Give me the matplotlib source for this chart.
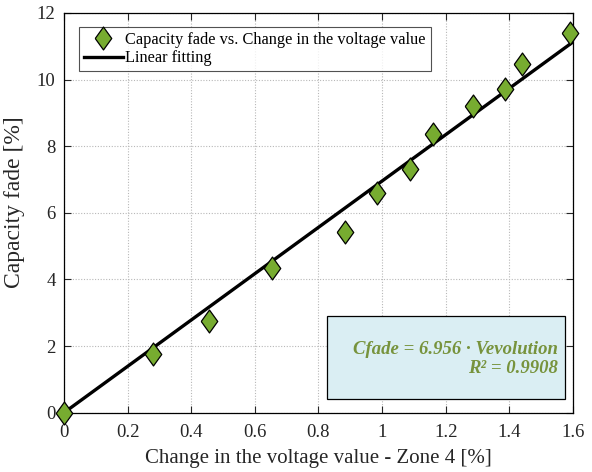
import numpy as np
import matplotlib
matplotlib.use("Agg")
import matplotlib.pyplot as plt
from matplotlib.patches import Rectangle

# =============================================================================
# DATA
# =============================================================================

voltage_change = [0.0, 0.280, 0.456, 0.655, 0.884, 0.985, 1.086, 1.159,
                  1.285, 1.385, 1.439, 1.590]
capacity_fade = [0.0, 1.75, 2.75, 4.33, 5.41, 6.60, 7.31, 8.36,
                 9.21, 9.73, 10.47, 11.41]

fit_slope = 6.956
fit_r2 = 0.9908
fit_x = [0.0, 1.6]

x_ticks = [0, 0.2, 0.4, 0.6, 0.8, 1, 1.2, 1.4, 1.6]
x_tick_labels = ["0", "0.2", "0.4", "0.6", "0.8", "1", "1.2", "1.4", "1.6"]
y_ticks = [0, 2, 4, 6, 8, 10, 12]

# =============================================================================
# PLOT
# =============================================================================

plt.rcParams["font.family"] = ["Liberation Serif", "DejaVu Serif"]

fig = plt.figure(figsize=(5.92, 4.72), dpi=100)
ax = fig.add_axes([0.108, 0.1256, 0.860, 0.847])

# wider diamond than matplotlib's "d"
diamond = [(-0.72, 0), (0, 1), (0.72, 0), (0, -1), (-0.72, 0)]

ax.plot(
    voltage_change,
    capacity_fade,
    linestyle="none",
    marker=diamond,
    markersize=16.5,
    markerfacecolor="#77ac30",
    markeredgecolor="black",
    markeredgewidth=0.9,
    label="Capacity fade vs. Change in the voltage value",
    zorder=4,
    clip_on=False
)

fit_y = [fit_slope * v for v in fit_x]

ax.plot(
    fit_x,
    fit_y,
    color="black",
    linewidth=2.4,
    label="Linear fitting",
    zorder=3
)

ax.set_xlim(0, 1.6)
ax.set_ylim(0, 12)
ax.set_xticks(x_ticks)
ax.set_xticklabels(x_tick_labels)
ax.set_yticks(y_ticks)

ax.tick_params(direction="in", top=True, right=True, labelsize=13.5,
               length=5, width=0.8, colors="#262626")
ax.tick_params(axis="x", pad=8)
ax.tick_params(axis="y", pad=6)
for spine in ax.spines.values():
    spine.set_linewidth(0.9)

ax.grid(True, linestyle=(0, (1, 1.5)), color="#b8b8b8", linewidth=0.8)
ax.set_axisbelow(True)

ax.set_xlabel("Change in the voltage value - Zone 4 [%]", fontsize=15,
              color="#262626", labelpad=6)
ax.set_ylabel("Capacity fade [%]", fontsize=17, color="#262626")
ax.yaxis.set_label_coords(-0.077, 0.527)

legend = ax.legend(
    loc="upper left",
    bbox_to_anchor=(0.029, 0.965),
    fontsize=11.8,
    frameon=True,
    fancybox=False,
    edgecolor="#262626",
    handlelength=2.4,
    handletextpad=0.15,
    borderpad=0.3,
    labelspacing=0.15,
    borderaxespad=0
)
legend.get_frame().set_linewidth(0.8)

# fit equation box
ax.add_patch(Rectangle(
    (0.517, 0.034), 0.467, 0.208,
    transform=ax.transAxes,
    facecolor="#daeef3",
    edgecolor="black",
    linewidth=0.9,
    zorder=5
))

ax.text(
    0.971, 0.134,
    f"Cfade = {fit_slope:.3f} · Vevolution\nR² = {fit_r2:.4f}",
    transform=ax.transAxes,
    ha="right",
    va="center",
    multialignment="right",
    fontsize=13.5,
    fontweight="bold",
    fontstyle="italic",
    color="#77933c",
    linespacing=1.2,
    zorder=6
)

fig.savefig("out.png", dpi=100)
